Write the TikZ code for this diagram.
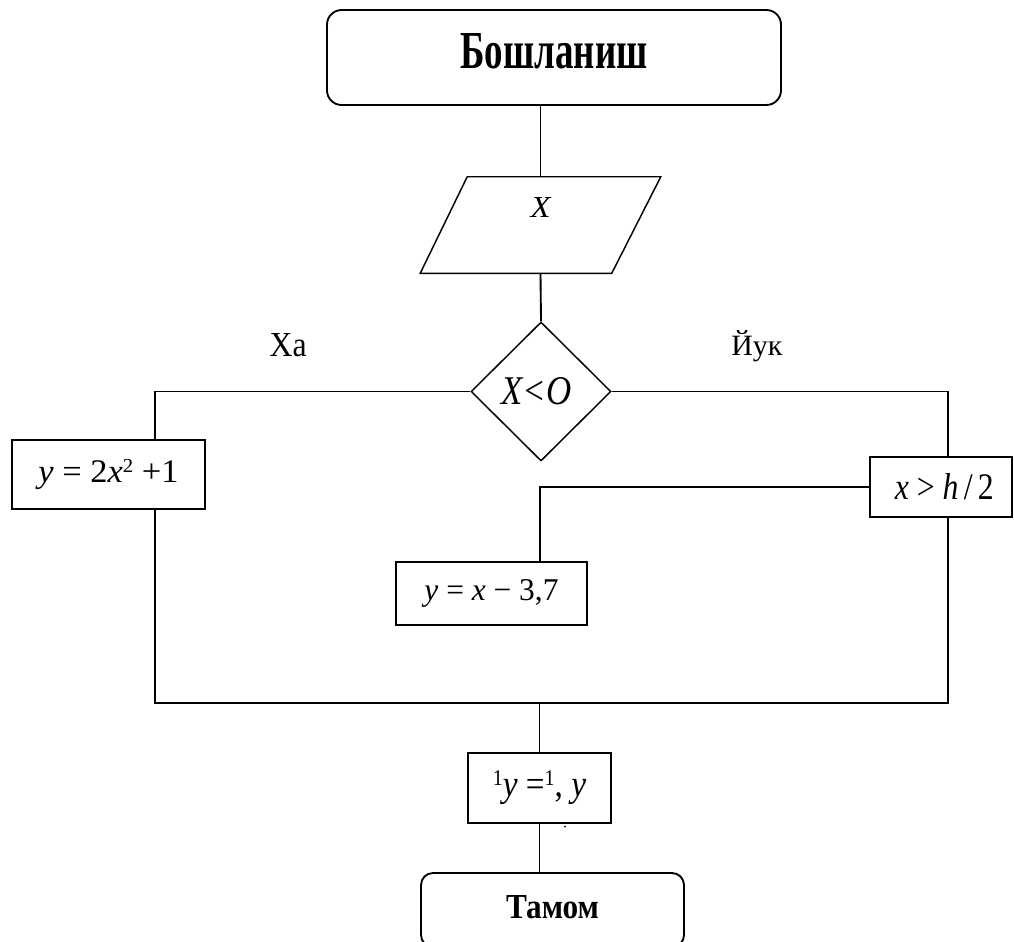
\documentclass[tikz,border=0pt]{standalone}
\usepackage{fontspec}
\setmainfont{Liberation Serif}
\usetikzlibrary{shapes.geometric,calc}
\newcommand{\supsm}[1]{\raisebox{0.3em}{\scalebox{0.6}{#1}}}
\begin{document}
\begin{tikzpicture}[x=0.75pt,y=-0.75pt,
  line/.style={line width=1.4pt},
  thin line/.style={line width=1.1pt},
  term/.style={draw,line width=1.4pt,rectangle,inner sep=0pt},
  proc/.style={draw,line width=1.4pt,rectangle,inner sep=0pt},
  dec/.style={draw,line width=1.1pt,diamond,inner sep=0pt},
  io/.style={rectangle,inner sep=0pt},
  lab/.style={inner sep=0pt}]
\useasboundingbox (0,0) rectangle (1014,942);

% nodes
\node[term, rounded corners=11pt, minimum width=340.5pt, minimum height=71.25pt, text depth=10.5pt] (start) at (554,57.5)
  {\resizebox{140.25pt}{26.25pt}{\bfseries Бошланиш}};
\node[io, minimum width=180pt, minimum height=72pt, text depth=27pt] (inp) at (540.5,225)
  {\resizebox{15pt}{15pt}{\itshape X}};
\draw[thin line] ($(inp.north west)+(47,0)$) -- (inp.north east) -- ($(inp.south east)+(-49,0)$) -- (inp.south west) -- cycle;
\node[dec, minimum width=105pt, minimum height=104.25pt] (d) at (541,391.5)
  {\kern-7pt\resizebox{52.5pt}{20.25pt}{\itshape X<O}};
\node[lab, anchor=base east] (ha) at (307,356) {\resizebox{27.75pt}{17.25pt}{Ха}};
\node[lab, anchor=base west] (yuk) at (731,355) {\resizebox{38.25pt}{18.75pt}{Йук}};
\node[proc, minimum width=144.75pt, minimum height=51.75pt] (yb) at (108.5,474.5)
  {\resizebox{105pt}{17.25pt}{\textit{y} = 2\textit{x}\supsm{2} +1}};
\node[proc, minimum width=106.5pt, minimum height=45pt] (cond) at (941,487)
  {\kern5pt\resizebox{74.25pt}{19.5pt}{\textit{x} > \textit{h}\,/\,2}};
\node[proc, minimum width=143.25pt, minimum height=47.25pt] (mid) at (491.5,593.5)
  {\resizebox{100.5pt}{15.75pt}{\textit{y} = \textit{x} − 3,7}};
\node[proc, minimum width=107.25pt, minimum height=52.5pt] (out) at (539.5,788)
  {\resizebox{70pt}{19.5pt}{\supsm{1}\textit{y} =\supsm{1}, \textit{y}}};
\node[term, rounded corners=9pt, minimum width=197.25pt, minimum height=55.5pt, text depth=5.25pt] (end) at (552.5,910)
  {\resizebox{69.75pt}{17.25pt}{\bfseries Тамом}};

% helper coordinates
\coordinate (lx) at (155,0);
\coordinate (rx) at (948,0);
\coordinate (mx) at (540,0);
\coordinate (jy) at (0,703);

% connectors
\draw[line] (start.south -| inp.north) -- (inp.north);
\draw[line] (inp.south) -- (d.north);
\draw[line] (d.west) -- (d.west -| lx) -- (yb.north -| lx);
\draw[line] (d.east) -- (d.east -| rx) -- (cond.north -| rx);
\draw[line] (cond.west) -- (cond.west -| mx) -- (mid.north -| mx);
\draw[line] (yb.south -| lx) -- (jy -| lx) -- (jy -| rx) -- (cond.south -| rx);
\draw[line] (jy -| out.north) -- (out.north);
\draw[line] (out.south) -- (end.north -| out.south);
\fill (565,826.5) circle (1);
\end{tikzpicture}
\end{document}
